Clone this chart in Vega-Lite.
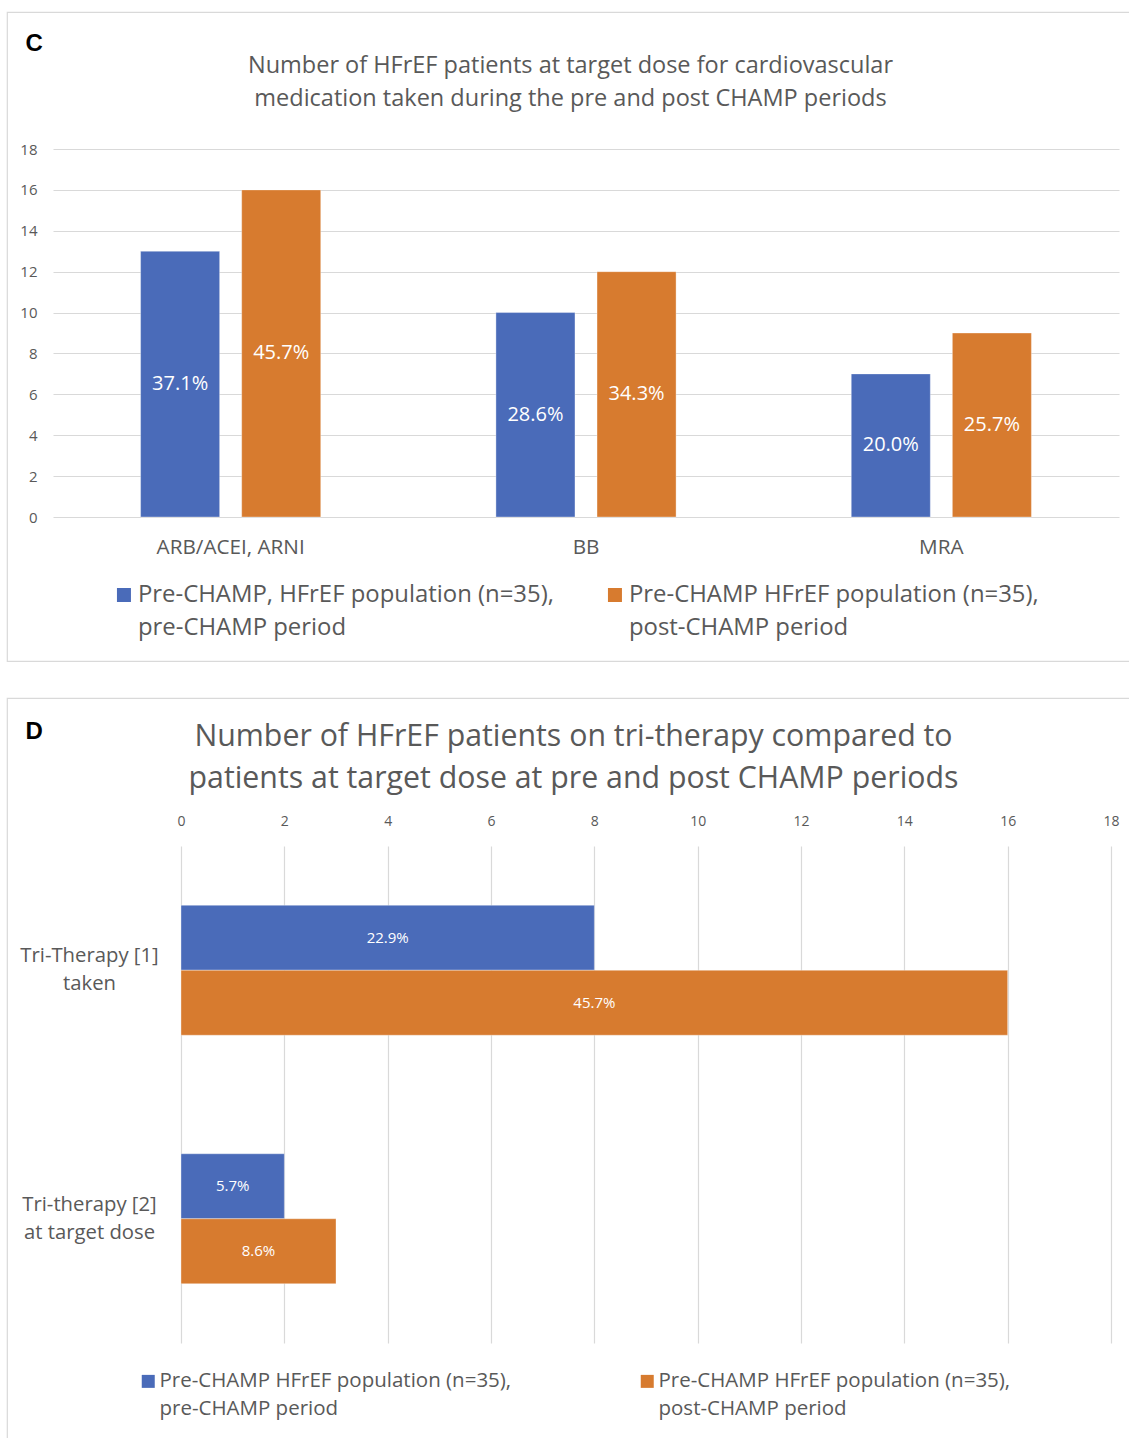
{
  "$schema": "https://vega.github.io/schema/vega-lite/v6.json",
  "padding": {"left": 6, "top": 11, "right": 0, "bottom": 0},
  "bounds": "flush",
  "spacing": 37,
  "config": {
    "font": "Open Sans",
    "view": {"stroke": "#D9D9D9", "strokeWidth": 1.2},
    "axis": {"labelColor": "#595959", "gridColor": "#D9D9D9", "gridWidth": 1.2, "domain": false, "ticks": false, "tickSize": 0, "labelPadding": 0, "labelFlush": false}
  },
  "resolve": {"scale": {"color": "independent"}, "legend": {"color": "independent"}},
  "vconcat": [
    {
      "width": 1125,
      "height": 649,
      "title": {
        "text": ["Number of HFrEF patients at target dose for cardiovascular", "medication taken during the pre and post CHAMP periods"],
        "fontSize": 23.5,
        "fontWeight": "normal",
        "color": "#595959",
        "lineHeight": 33,
        "anchor": "middle",
        "offset": -98,
        "dx": 1
      },
      "data": {
        "values": [
          {"drug": "ARB/ACEI, ARNI", "period": "pre", "count": 13},
          {"drug": "ARB/ACEI, ARNI", "period": "post", "count": 16},
          {"drug": "BB", "period": "pre", "count": 10},
          {"drug": "BB", "period": "post", "count": 12},
          {"drug": "MRA", "period": "pre", "count": 7},
          {"drug": "MRA", "period": "post", "count": 9}
        ]
      },
      "transform": [
        {"calculate": "datum.count / 2", "as": "mid"},
        {"calculate": "format(datum.count / 35, '.1%')", "as": "share"}
      ],
      "encoding": {
        "x": {
          "field": "drug",
          "type": "nominal",
          "sort": null,
          "scale": {"range": [46, 1112], "paddingInner": 0.493, "paddingOuter": 0.2465},
          "axis": {"title": null, "labelAngle": 0, "labelFontSize": 20.7, "labelBaseline": "middle", "offset": -114}
        },
        "xOffset": {
          "field": "period",
          "type": "nominal",
          "scale": {"domain": ["pre", "post"], "paddingInner": 0.218, "paddingOuter": 0}
        }
      },
      "layer": [
        {
          "mark": {"type": "bar", "stroke": "#FFFFFF", "strokeOpacity": 0.35, "strokeWidth": 1},
          "encoding": {
            "y": {
              "field": "count",
              "type": "quantitative",
              "scale": {"domain": [0, 18], "range": [505, 137], "nice": false},
              "axis": {
                "values": [0, 2, 4, 6, 8, 10, 12, 14, 16, 18],
                "format": "d",
                "labelFontSize": 15,
                "offset": -30,
                "title": "C",
                "titleAngle": 0,
                "titleFont": "Liberation Sans",
                "titleFontSize": 24,
                "titleFontWeight": "bold",
                "titleColor": "#000000",
                "titleAlign": "left",
                "titleBaseline": "middle",
                "titleX": -12,
                "titleY": 31
              }
            },
            "color": {
              "field": "period",
              "type": "nominal",
              "scale": {"domain": ["pre", "post"], "range": ["#4A6BB9", "#D77B2F"]},
              "legend": {
                "orient": "none",
                "legendX": 105,
                "legendY": 571,
                "direction": "horizontal",
                "title": null,
                "padding": 0,
                "symbolType": "square",
                "symbolSize": 196,
                "symbolStrokeWidth": 0,
                "labelFontSize": 23.9,
                "labelColor": "#595959",
                "labelOffset": 2,
                "labelLimit": 1000,
                "columnPadding": 49,
                "labelExpr": "datum.value == 'pre' ? ['Pre-CHAMP, HFrEF population (n=35),', 'pre-CHAMP period'] : ['Pre-CHAMP HFrEF population (n=35),', 'post-CHAMP period']",
                "encoding": {"labels": {"lineHeight": {"value": 33}}}
              }
            }
          }
        },
        {
          "mark": {"type": "text", "color": "#FFFFFF", "fontSize": 20, "align": "center", "baseline": "middle"},
          "encoding": {
            "y": {"field": "mid", "type": "quantitative"},
            "text": {"field": "share", "type": "nominal"}
          }
        }
      ]
    },
    {
      "width": 1125,
      "height": 744,
      "title": {
        "text": ["Number of HFrEF patients on tri-therapy compared to", "patients at target dose at pre and post CHAMP periods"],
        "fontSize": 30.3,
        "fontWeight": "normal",
        "color": "#595959",
        "lineHeight": 42,
        "anchor": "middle",
        "offset": -96,
        "dx": 4
      },
      "data": {
        "values": [
          {"therapy": "Tri-Therapy [1] taken", "period": "pre", "count": 8},
          {"therapy": "Tri-Therapy [1] taken", "period": "post", "count": 16},
          {"therapy": "Tri-therapy [2] at target dose", "period": "pre", "count": 2},
          {"therapy": "Tri-therapy [2] at target dose", "period": "post", "count": 3}
        ]
      },
      "transform": [
        {"calculate": "datum.count / 2", "as": "mid"},
        {"calculate": "format(datum.count / 35, '.1%')", "as": "share"}
      ],
      "encoding": {
        "y": {
          "field": "therapy",
          "type": "nominal",
          "sort": null,
          "scale": {"range": [148, 645], "paddingInner": 0.477, "paddingOuter": 0.2385},
          "axis": {
            "title": "D",
            "titleAngle": 0,
            "titleFont": "Liberation Sans",
            "titleFontSize": 24,
            "titleFontWeight": "bold",
            "titleColor": "#000000",
            "titleAlign": "left",
            "titleBaseline": "middle",
            "titleX": -64,
            "titleY": 33,
            "labelFontSize": 20.3,
            "labelLineHeight": 28,
            "labelAlign": "center",
            "labelBaseline": "middle",
            "labelOffset": -14,
            "offset": -82,
            "grid": false,
            "labelExpr": "datum.value == 'Tri-Therapy [1] taken' ? ['Tri-Therapy [1]', 'taken'] : ['Tri-therapy [2]', 'at target dose']"
          }
        },
        "yOffset": {
          "field": "period",
          "type": "nominal",
          "scale": {"domain": ["pre", "post"], "paddingInner": 0, "paddingOuter": 0}
        }
      },
      "layer": [
        {
          "mark": {"type": "bar", "stroke": "#FFFFFF", "strokeOpacity": 0.35, "strokeWidth": 1},
          "encoding": {
            "x": {
              "field": "count",
              "type": "quantitative",
              "scale": {"domain": [0, 18], "range": [174, 1104], "nice": false},
              "axis": {
                "orient": "top",
                "values": [0, 2, 4, 6, 8, 10, 12, 14, 16, 18],
                "format": "d",
                "labelFontSize": 14,
                "labelBaseline": "middle",
                "offset": -123,
                "title": null
              }
            },
            "color": {
              "field": "period",
              "type": "nominal",
              "scale": {"domain": ["pre", "post"], "range": ["#4A6BB9", "#D77B2F"]},
              "legend": {
                "orient": "none",
                "legendX": 131,
                "legendY": 673,
                "direction": "horizontal",
                "title": null,
                "padding": 0,
                "symbolType": "square",
                "symbolSize": 169,
                "symbolStrokeWidth": 0,
                "labelFontSize": 20.5,
                "labelColor": "#595959",
                "labelOffset": 1,
                "labelLimit": 1000,
                "columnPadding": 125,
                "labelExpr": "datum.value == 'pre' ? ['Pre-CHAMP HFrEF population (n=35),', 'pre-CHAMP period'] : ['Pre-CHAMP HFrEF population (n=35),', 'post-CHAMP period']",
                "encoding": {"labels": {"lineHeight": {"value": 28}}}
              }
            }
          }
        },
        {
          "mark": {"type": "text", "color": "#FFFFFF", "fontSize": 15, "align": "center", "baseline": "middle"},
          "encoding": {
            "x": {"field": "mid", "type": "quantitative"},
            "text": {"field": "share", "type": "nominal"}
          }
        }
      ]
    }
  ]
}
